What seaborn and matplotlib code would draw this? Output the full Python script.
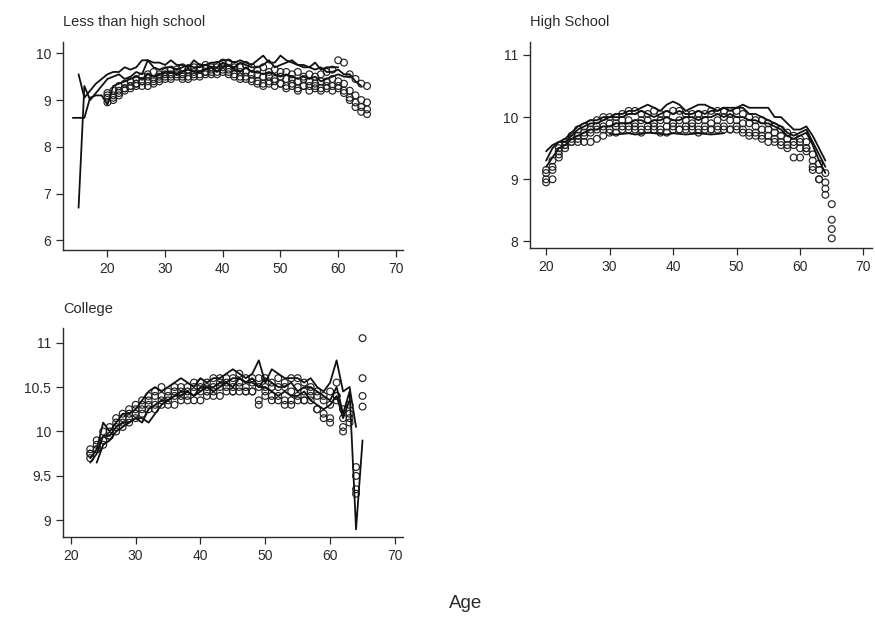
import numpy as np
import pandas as pd
import matplotlib
matplotlib.use("Agg")
import matplotlib.pyplot as plt
import seaborn as sns

# ---- data: log earnings by age, one entry per cohort (start age, values) ----
# Less than high school
lths_lines = {
    "a": (15, [9.55, 9.05, 9.2, 9.35, 9.45, 9.55, 9.6, 9.6, 9.7, 9.65, 9.7, 9.85, 9.85, 9.8, 9.8, 9.75,
               9.85, 9.75, 9.75, 9.7, 9.85, 9.75, 9.75, 9.8, 9.8, 9.85, 9.85, 9.8, 9.85, 9.8, 9.75, 9.85,
               9.95, 9.8, 9.8, 9.95, 9.85, 9.8, 9.75, 9.75, 9.7, 9.8, 9.65, 9.7, 9.7, 9.7]),
    "b": (15, [6.7, 9.3, 9.0, 9.15, 9.3, 9.45, 9.5, 9.55, 9.45, 9.5, 9.6, 9.55, 9.85, 9.7, 9.65, 9.7,
               9.7, 9.65, 9.7, 9.75, 9.7, 9.7, 9.75, 9.7, 9.7, 9.8, 9.75, 9.7, 9.8, 9.75, 9.7, 9.7,
               9.75, 9.85, 9.7, 9.75, 9.8, 9.85, 9.75, 9.7, 9.7, 9.65, 9.7, 9.6, 9.6, 9.65, 9.55, 9.55,
               9.4, 9.3]),
    "c": (14, [8.62, 8.62, 8.62, 9.05, 9.1, 9.1, 8.9, 9.3, 9.35, 9.4, 9.45, 9.5, 9.45, 9.55, 9.5, 9.55,
               9.6, 9.6, 9.55, 9.6, 9.65, 9.6, 9.6, 9.65, 9.7, 9.6, 9.7, 9.75, 9.65, 9.6, 9.7, 9.6,
               9.6, 9.55, 9.6, 9.55, 9.5, 9.55, 9.5, 9.45, 9.5, 9.45, 9.5, 9.4, 9.45, 9.5, 9.55, 9.5,
               9.5]),
}
lths_dots = {
    "d": (20, [9.15, 9.2, 9.3, 9.35, 9.4, 9.45, 9.5, 9.55, 9.6, 9.55, 9.6, 9.65, 9.65, 9.7, 9.65, 9.7,
               9.7, 9.75, 9.7, 9.75, 9.8, 9.8, 9.75, 9.7, 9.75, 9.7, 9.65, 9.7, 9.6, 9.65, 9.6, 9.6,
               9.55, 9.6, 9.5, 9.55, 9.5, 9.55, 9.6, 9.65, 9.85, 9.8, 9.55, 9.45, 9.35, 9.3]),
    "e": (20, [9.05, 9.1, 9.2, 9.25, 9.3, 9.35, 9.4, 9.5, 9.45, 9.5, 9.55, 9.55, 9.6, 9.55, 9.6, 9.6,
               9.65, 9.6, 9.65, 9.7, 9.7, 9.65, 9.7, 9.6, 9.6, 9.55, 9.55, 9.5, 9.5, 9.45, 9.5, 9.45,
               9.45, 9.4, 9.45, 9.4, 9.35, 9.4, 9.4, 9.45, 9.4, 9.35, 9.2, 9.1, 9.0, 8.95]),
    "f": (20, [8.95, 9.0, 9.1, 9.2, 9.25, 9.3, 9.3, 9.4, 9.35, 9.45, 9.45, 9.5, 9.5, 9.5, 9.45, 9.55,
               9.55, 9.55, 9.6, 9.6, 9.6, 9.55, 9.55, 9.5, 9.45, 9.45, 9.4, 9.35, 9.35, 9.4, 9.35, 9.3,
               9.3, 9.25, 9.3, 9.3, 9.25, 9.2, 9.25, 9.3, 9.25, 9.2, 9.05, 8.95, 8.85, 8.8]),
    "g": (20, [9.1, 9.05, 9.15, 9.25, 9.3, 9.35, 9.4, 9.3, 9.4, 9.4, 9.5, 9.45, 9.55, 9.45, 9.5, 9.5,
               9.5, 9.6, 9.55, 9.55, 9.65, 9.6, 9.5, 9.45, 9.5, 9.4, 9.35, 9.3, 9.4, 9.3, 9.35, 9.25,
               9.35, 9.2, 9.3, 9.2, 9.3, 9.25, 9.3, 9.2, 9.3, 9.15, 9.0, 8.85, 8.75, 8.7]),
}

# High school
hs_lines = {
    "a": (20, [9.45, 9.55, 9.6, 9.65, 9.75, 9.85, 9.9, 9.95, 9.95, 10.0, 10.0, 10.05, 10.05, 10.1, 10.1,
               10.15, 10.2, 10.15, 10.1, 10.2, 10.25, 10.2, 10.1, 10.15, 10.2, 10.2, 10.15, 10.1, 10.15,
               10.15, 10.15, 10.2, 10.15, 10.15, 10.15, 10.15, 10.0, 10.0, 9.9, 9.8, 9.8, 9.85, 9.7,
               9.5, 9.3]),
    "b": (20, [9.3, 9.5, 9.6, 9.6, 9.7, 9.8, 9.85, 9.9, 9.9, 9.95, 10.0, 10.0, 10.0, 10.05, 10.05, 10.1,
               10.05, 10.0, 10.05, 10.1, 10.05, 10.1, 10.05, 10.05, 10.1, 10.05, 10.1, 10.1, 10.15, 10.1,
               10.15, 10.15, 10.05, 10.05, 10.0, 9.95, 9.9, 9.85, 9.75, 9.7, 9.75, 9.8, 9.6, 9.4, 9.2]),
    "c": (20, [9.2, 9.35, 9.5, 9.55, 9.65, 9.7, 9.75, 9.8, 9.8, 9.85, 9.85, 9.9, 9.9, 9.9, 9.95, 9.95,
               9.9, 9.95, 9.95, 10.0, 9.95, 9.95, 10.0, 10.0, 9.95, 10.0, 10.0, 10.05, 10.0, 10.05, 10.0,
               10.0, 9.95, 9.95, 9.9, 9.9, 9.85, 9.8, 9.7, 9.65, 9.7, 9.75, 9.55, 9.3, 9.1]),
    "h": (30, [9.73, 9.72, 9.73, 9.74, 9.72, 9.73, 9.75, 9.74, 9.73, 9.72, 9.74, 9.73, 9.72, 9.73, 9.74,
               9.73, 9.72, 9.73, 9.74]),
}
hs_dots = {
    "d": (20, [9.15, 9.3, 9.5, 9.6, 9.7, 9.8, 9.85, 9.9, 9.95, 10.0, 10.0, 10.0, 10.05, 10.1, 10.1, 10.05,
               10.05, 10.1, 10.05, 10.05, 10.1, 10.1, 10.05, 10.05, 10.05, 10.05, 10.1, 10.1, 10.1, 10.05,
               10.1, 10.05, 10.0, 9.95, 9.95, 9.9, 9.85, 9.8, 9.75, 9.7, 9.65, 9.6, 9.4, 9.25, 9.1, 8.6]),
    "e": (20, [9.0, 9.15, 9.4, 9.55, 9.65, 9.7, 9.75, 9.8, 9.85, 9.85, 9.9, 9.9, 9.95, 9.95, 9.9, 9.95,
               9.95, 9.9, 9.95, 9.95, 9.9, 9.95, 9.95, 9.9, 9.95, 9.95, 9.9, 9.95, 10.0, 9.95, 9.95, 9.9,
               9.9, 9.85, 9.8, 9.8, 9.75, 9.7, 9.65, 9.6, 9.6, 9.5, 9.3, 9.15, 8.95, 8.35]),
    "f": (20, [8.95, 9.0, 9.35, 9.5, 9.6, 9.65, 9.7, 9.75, 9.8, 9.8, 9.8, 9.85, 9.85, 9.85, 9.85, 9.8,
               9.85, 9.85, 9.8, 9.85, 9.85, 9.8, 9.85, 9.85, 9.8, 9.85, 9.8, 9.85, 9.85, 9.8, 9.85, 9.8,
               9.75, 9.75, 9.7, 9.7, 9.65, 9.6, 9.55, 9.55, 9.5, 9.45, 9.2, 9.0, 8.85, 8.2]),
    "g": (20, [9.1, 9.2, 9.45, 9.55, 9.6, 9.6, 9.6, 9.6, 9.65, 9.7, 9.75, 9.75, 9.8, 9.8, 9.8, 9.75,
               9.8, 9.8, 9.75, 9.75, 9.8, 9.8, 9.8, 9.8, 9.75, 9.8, 9.8, 9.8, 9.8, 9.8, 9.8, 9.75,
               9.7, 9.7, 9.65, 9.6, 9.6, 9.55, 9.5, 9.35, 9.35, 9.5, 9.15, 9.0, 8.75, 8.05]),
}

# College
col_lines = {
    "a": (23, [9.7, 9.8, 10.1, 10.0, 10.1, 10.2, 10.2, 10.25, 10.35, 10.45, 10.5, 10.45, 10.5, 10.55,
               10.6, 10.55, 10.5, 10.6, 10.55, 10.6, 10.6, 10.65, 10.7, 10.65, 10.6, 10.65, 10.8, 10.55,
               10.7, 10.65, 10.6, 10.6, 10.6, 10.55, 10.6, 10.5, 10.45, 10.55, 10.8, 10.45, 10.5, 10.05]),
    "b": (23, [9.65, 9.75, 9.95, 9.95, 10.05, 10.1, 10.1, 10.15, 10.1, 10.25, 10.3, 10.35, 10.35, 10.4,
               10.45, 10.45, 10.4, 10.5, 10.5, 10.5, 10.55, 10.55, 10.6, 10.6, 10.55, 10.6, 10.5, 10.6,
               10.55, 10.5, 10.5, 10.55, 10.45, 10.5, 10.5, 10.45, 10.4, 10.35, 10.5, 10.2, 10.45, 8.9,
               9.9]),
    "c": (24, [9.65, 9.85, 9.9, 10.0, 10.05, 10.1, 10.15, 10.15, 10.1, 10.2, 10.3, 10.35, 10.4, 10.4,
               10.45, 10.4, 10.45, 10.5, 10.45, 10.5, 10.55, 10.5, 10.6, 10.55, 10.55, 10.5, 10.5, 10.45,
               10.4, 10.45, 10.4, 10.4, 10.45, 10.35, 10.3, 10.25, 10.3, 10.4, 10.15, 10.35]),
}
col_dots = {
    "d": (23, [9.8, 9.9, 10.0, 10.05, 10.15, 10.2, 10.25, 10.3, 10.35, 10.4, 10.45, 10.5, 10.45, 10.5,
               10.5, 10.5, 10.55, 10.55, 10.55, 10.6, 10.6, 10.6, 10.6, 10.65, 10.6, 10.6, 10.6, 10.6,
               10.55, 10.6, 10.55, 10.6, 10.6, 10.55, 10.5, 10.45, 10.4, 10.45, 10.55, 10.25, 10.15, 9.6,
               11.05]),
    "e": (23, [9.75, 9.85, 9.9, 10.0, 10.1, 10.15, 10.2, 10.25, 10.3, 10.35, 10.4, 10.4, 10.4, 10.45,
               10.45, 10.45, 10.5, 10.5, 10.5, 10.5, 10.55, 10.55, 10.5, 10.55, 10.5, 10.55, 10.5, 10.5,
               10.5, 10.5, 10.5, 10.45, 10.5, 10.45, 10.45, 10.4, 10.35, 10.3, 10.4, 10.15, 10.1, 9.5,
               10.6]),
    "f": (23, [9.7, 9.8, 9.85, 9.95, 10.05, 10.1, 10.15, 10.2, 10.25, 10.3, 10.3, 10.35, 10.35, 10.4,
               10.4, 10.4, 10.45, 10.45, 10.45, 10.45, 10.5, 10.5, 10.45, 10.5, 10.45, 10.45, 10.35, 10.45,
               10.4, 10.4, 10.35, 10.35, 10.4, 10.35, 10.4, 10.25, 10.2, 10.15, 10.35, 10.05, 10.3, 9.3,
               10.4]),
    "g": (23, [9.75, 9.8, 9.9, 9.95, 10.0, 10.05, 10.1, 10.15, 10.2, 10.25, 10.25, 10.3, 10.3, 10.3,
               10.35, 10.35, 10.35, 10.35, 10.4, 10.4, 10.4, 10.45, 10.45, 10.45, 10.45, 10.45, 10.3, 10.4,
               10.35, 10.35, 10.3, 10.3, 10.35, 10.35, 10.35, 10.25, 10.15, 10.1, 10.4, 10.0, 10.2, 9.35,
               10.28]),
}


def to_long(d):
    rows = []
    for name, (start, vals) in d.items():
        for i, v in enumerate(vals):
            rows.append((name, start + i, v))
    return pd.DataFrame(rows, columns=["cohort", "age", "logearn"])


sns.set_style("ticks")
plt.rcParams["font.family"] = ["Liberation Sans", "DejaVu Sans"]

fig = plt.figure(figsize=(8.75, 6.2), dpi=100)

ink = "#2a2a2a"

panels = [
    ("Less than high school", lths_lines, lths_dots, [0.072, 0.597, 0.389, 0.336],
     (12.3, 71.3), (5.8, 10.25), [6, 7, 8, 9, 10], ["6", "7", "8", "9", "10"]),
    ("High School", hs_lines, hs_dots, [0.606, 0.5995, 0.391, 0.333],
     (17.5, 71.4), (7.89, 11.21), [8, 9, 10, 11], ["8", "9", "10", "11"]),
    ("College", col_lines, col_dots, [0.072, 0.1334, 0.389, 0.337],
     (18.8, 71.3), (8.81, 11.16), [9, 9.5, 10, 10.5, 11], ["9", "9.5", "10", "10.5", "11"]),
]

for title, lines, dots, pos, xlim, ylim, yt, ytl in panels:
    ax = fig.add_axes(pos)
    ldf = to_long(lines)
    ddf = to_long(dots)
    sns.lineplot(data=ldf, x="age", y="logearn", units="cohort", estimator=None,
                 color="#111111", linewidth=1.3, ax=ax, legend=False)
    sns.scatterplot(data=ddf, x="age", y="logearn", marker="o", s=24,
                    fc="none", ec="#222222", linewidth=0.85, ax=ax, legend=False)
    ax.set_xlim(*xlim)
    ax.set_ylim(*ylim)
    ax.set_xticks([20, 30, 40, 50, 60, 70])
    ax.set_yticks(yt)
    ax.set_yticklabels(ytl)
    ax.set_xlabel("")
    ax.set_ylabel("")
    ax.tick_params(direction="out", length=5, width=0.9, labelsize=10, colors=ink)
    for s in ["left", "bottom"]:
        ax.spines[s].set_linewidth(1.0)
        ax.spines[s].set_color(ink)
    sns.despine(ax=ax)
    ax.text(0.0, 1.095, title, transform=ax.transAxes, ha="left", va="center",
            fontsize=10.5, color=ink)

fig.text(466 / 875, 1 - 604 / 620, "Age", ha="center", va="center", fontsize=13.5, color=ink)

plt.savefig("out.png", dpi=100)
